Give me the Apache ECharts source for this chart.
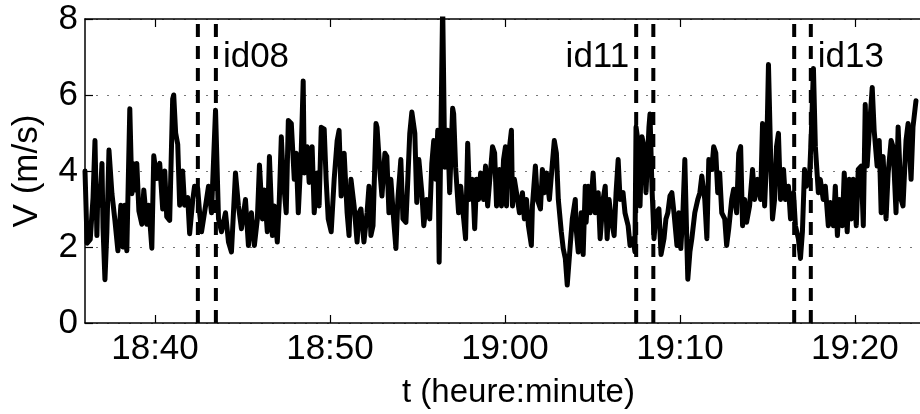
<!DOCTYPE html>
<html><head><meta charset="utf-8">
<script src="https://cdn.jsdelivr.net/npm/echarts@6/dist/echarts.min.js"></script>
<style>html,body{margin:0;padding:0;background:#fff}#chart{width:920px;height:414px}</style>
</head><body><div id="chart"></div>
<script>
// time in minutes after 18:00, wind speed V (m/s)
const windSpeed = [
[36.00,4.0],[36.12,2.1],[36.30,2.2],[36.46,3.3],[36.57,4.8],[36.68,2.3],[36.74,3.6],[36.85,3.1],[36.97,4.2],[37.03,2.5],[37.14,1.14],[37.25,2.4],[37.37,4.55],[37.54,3.4],[37.71,2.7],[37.88,1.9],[38.05,3.1],[38.16,2.0],[38.28,3.1],[38.39,1.9],[38.56,5.64],[38.68,3.4],[38.73,4.2],[38.85,3.5],[38.96,4.2],[39.08,2.95],[39.25,2.6],[39.36,3.5],[39.53,2.6],[39.64,3.1],[39.82,1.97],[39.93,4.4],[40.10,3.8],[40.27,4.2],[40.44,3.0],[40.56,4.0],[40.67,2.8],[40.84,2.7],[41.01,5.9],[41.07,6.0],[41.18,5.0],[41.30,4.7],[41.41,3.1],[41.58,4.0],[41.69,3.1],[41.87,3.3],[41.98,2.35],[42.15,3.2],[42.26,3.6],[42.44,3.55],
[42.55,2.9],[42.66,2.4],[42.89,3.08],[43.06,3.6],[43.23,2.9],[43.46,5.6],[43.63,2.74],[43.80,2.4],[44.03,2.9],[44.20,2.13],[44.37,1.87],[44.60,3.95],[44.77,3.08],[44.94,2.48],[45.17,3.25],[45.34,2.04],[45.51,2.9],
[45.68,2.04],[45.85,2.74],[45.97,4.16],[46.14,2.74],[46.25,3.5],[46.42,2.4],[46.54,4.38],[46.71,2.3],[46.82,3.08],[46.99,2.13],[47.10,3.17],[47.22,4.9],[47.33,3.78],[47.50,2.9],[47.62,5.33],[47.79,5.25],[47.96,3.78],[48.07,4.47],[48.19,2.9],[48.36,4.55],[48.47,6.37],[48.53,3.95],[48.70,4.64],[48.81,3.7],[48.98,4.64],[49.10,2.9],[49.27,3.95],[49.38,3.08],[49.50,5.15],[49.67,5.1],[49.78,3.78],[49.90,2.74],[50.07,2.4],[50.24,3.78],
[50.41,4.8],[50.52,5.07],[50.64,3.34],[50.81,4.47],[50.98,2.9],[51.09,2.3],[51.20,3.78],[51.38,3.08],[51.55,2.13],[51.66,2.9],[51.77,3.0],[51.94,2.13],[52.12,2.9],[52.23,3.6],[52.34,2.3],[52.46,2.56],[52.63,5.25],[52.69,5.15],[52.86,3.95],[52.97,3.34],[53.14,4.47],[53.25,4.38],[53.37,2.9],[53.48,3.78],[53.65,2.65],[53.77,1.96],[53.88,3.25],[54.05,4.3],[54.17,2.74],[54.34,2.65],[54.45,3.78],[54.56,4.99],[54.68,5.55],[54.85,4.99],[54.96,3.17],
[55.08,4.3],[55.25,3.43],[55.36,2.56],[55.53,3.25],[55.70,2.74],[55.82,4.2],[55.93,4.8],[56.05,3.78],[56.16,5.07],[56.24,1.6],[56.44,8.4],[56.56,4.1],[56.73,5.07],[56.84,3.43],[57.01,5.65],[57.07,5.5],[57.18,4.1],[57.35,2.9],[57.47,3.6],[57.64,2.74],[57.75,2.22],[57.87,4.73],[57.98,3.25],[58.15,3.78],[58.27,2.48],[58.38,3.78],[58.49,3.25],[58.61,3.95],[58.78,3.25],[58.89,4.13],[59.01,3.08],[59.12,3.7],[59.29,4.64],[59.41,4.47],[59.52,3.08],[59.69,4.04],
[59.80,3.08],[59.92,4.3],[60.03,4.64],[60.09,3.08],[60.20,4.38],[60.37,5.07],[60.43,3.08],[60.54,3.78],[60.66,3.43],[60.83,2.9],[61.00,3.43],[61.11,2.74],[61.23,3.25],[61.34,2.56],[61.51,2.04],[61.57,3.08],[61.74,4.13],[61.85,3.25],[62.03,3.0],[62.14,4.04],[62.25,3.43],[62.37,3.95],[62.54,3.25],[62.71,4.2],[62.82,4.8],[62.94,4.47],[63.05,3.25],[63.22,2.4],[63.33,1.96],[63.45,1.7],[63.56,1.0],[63.73,2.04],[63.85,2.74],[64.02,3.25],[64.07,2.48],[64.19,1.87],[64.36,2.9],[64.47,1.8],
[64.59,3.6],[64.64,2.65],[64.76,3.6],[64.87,2.9],[65.04,3.95],[65.16,2.9],[65.33,3.43],[65.44,2.22],[65.61,3.25],[65.73,3.6],[65.84,2.22],[65.95,3.25],[66.07,2.74],[66.24,2.3],[66.35,3.43],[66.47,4.3],[66.58,3.25],[66.75,3.43],[66.86,2.9],[67.04,2.56],[67.15,2.04],[67.32,2.22],[67.43,1.87],[67.49,5.16],[67.60,4.8],[67.72,3.08],[67.83,4.9],[67.95,4.64],[68.06,3.43],[68.23,5.16],[68.29,5.5],[68.40,3.6],[68.52,2.22],[68.63,2.9],[68.80,3.0],[68.92,1.8],[69.09,2.22],[69.20,2.74],
[69.31,2.9],[69.43,3.34],[69.54,3.43],[69.66,2.9],[69.83,2.04],[69.94,2.9],[70.05,1.96],[70.17,2.9],[70.28,4.3],[70.40,2.04],[70.45,1.15],[70.57,1.87],[70.68,2.22],[70.85,2.9],[71.02,3.25],[71.14,3.43],[71.25,3.87],[71.42,3.25],[71.54,2.22],[71.65,4.3],[71.82,4.04],[71.93,4.64],[72.05,4.47],[72.16,3.43],[72.27,3.95],[72.39,2.9],[72.56,2.74],[72.67,2.04],[72.79,2.48],[72.96,3.25],[73.07,3.52],[73.24,2.9],[73.36,4.47],[73.47,4.64],[73.58,2.56],[73.70,3.25],[73.81,2.65],
[73.98,3.08],[74.15,4.04],[74.27,3.25],[74.44,3.78],[74.61,3.25],[74.72,5.25],[74.84,3.08],[74.95,4.3],[75.06,6.8],[75.18,4.47],[75.29,2.74],[75.41,3.25],[75.52,4.64],[75.63,4.99],[75.75,3.25],[75.92,4.04],[76.03,3.25],[76.20,3.6],[76.32,2.74],[76.49,3.43],[76.60,2.56],[76.77,2.22],[76.89,1.7],[77.00,2.4],[77.12,4.04],[77.23,3.6],[77.40,3.78],[77.51,4.99],[77.63,6.7],[77.74,4.64],[77.91,3.43],[78.02,3.78],[78.19,3.25],[78.31,3.6],[78.48,2.56],[78.60,3.17],
[78.77,2.56],[78.88,3.6],[79.00,2.3],[79.11,3.25],[79.28,2.56],[79.39,3.95],[79.56,2.4],[79.68,3.78],[79.79,2.74],[79.91,3.78],[80.08,2.56],[80.19,4.04],[80.36,4.13],[80.48,2.56],[80.59,5.75],[80.70,4.13],[80.87,5.4],[80.99,6.2],[81.10,5.07],[81.27,4.13],[81.39,4.8],[81.50,2.9],[81.61,4.38],[81.78,2.74],[81.90,3.95],[82.07,4.8],[82.18,4.64],[82.35,2.9],[82.47,5.16],[82.64,3.25],[82.75,3.08],[82.92,4.8],[83.04,5.25],[83.21,3.78],[83.32,5.16],[83.49,5.85]
];
const tickMinutes = [40, 50, 60, 70, 80];
const tickLabels = ['18:40', '18:50', '19:00', '19:10', '19:20'];
const idLines = [42.45, 43.48, 67.50, 68.48, 76.53, 77.48];
const idNames = ['id08', 'id11', 'id13'];
const idLabelSide = ['right', 'left', 'right'];

const FONT = 'Liberation Sans, Arial, Helvetica, sans-serif';
const X_MIN = 36, X_MAX = 83.72, Y_MIN = 0, Y_MAX = 8, LABEL_V = 7;

const chart = echarts.init(document.getElementById('chart'), null, {renderer: 'canvas'});

const series = [{
  type: 'line', data: windSpeed, showSymbol: false, symbol: 'none', clip: true,
  lineStyle: {color: '#000', width: 5, join: 'round', cap: 'round'}, z: 3, animation: false
}];
idLines.forEach(t => {
  series.push({
    type: 'line', data: [[t, Y_MIN], [t, Y_MAX]], symbol: 'none', clip: true,
    lineStyle: {color: '#000', width: 4, type: [13, 9]}, z: 4, animation: false
  });
});
series.push({
  type: 'scatter', symbolSize: 0, z: 5, animation: false,
  itemStyle: {opacity: 1},
  data: idNames.map((n, i) => ({
    value: [idLabelSide[i] === 'right' ? idLines[2 * i + 1] : idLines[2 * i], LABEL_V],
    name: n,
    label: {position: idLabelSide[i]}
  })),
  label: {show: true, formatter: p => p.name, fontSize: 35, fontFamily: FONT, color: '#000', opacity: 1, distance: 7}
});

const tickFmt = v => { const k = tickMinutes.indexOf(Math.round(v)); return k >= 0 ? tickLabels[k] : ''; };

chart.setOption({
  backgroundColor: '#fff',
  animation: false,
  grid: {left: 85, right: -3, top: 19, bottom: 87, containLabel: false},
  xAxis: [{
    type: 'value', min: X_MIN, max: X_MAX, position: 'bottom',
    axisLine: {show: true, lineStyle: {color: '#000', width: 1.5}},
    axisTick: {show: true, inside: true, length: 8, customValues: tickMinutes, lineStyle: {color: '#000', width: 1.2}},
    axisLabel: {customValues: tickMinutes, formatter: tickFmt, fontSize: 35, fontFamily: FONT, color: '#000', margin: 9},
    splitLine: {show: false},
    name: 't (heure:minute)', nameLocation: 'middle', nameGap: 53,
    nameTextStyle: {fontSize: 33, fontFamily: FONT, color: '#000', padding: [0, 0, 0, 32]}
  }, {
    type: 'value', min: X_MIN, max: X_MAX, position: 'top',
    axisLine: {show: true, lineStyle: {color: '#000', width: 1.5}},
    axisTick: {show: true, inside: true, length: 8, customValues: tickMinutes, lineStyle: {color: '#000', width: 1.2}},
    axisLabel: {show: false}, splitLine: {show: false}
  }],
  yAxis: [{
    type: 'value', min: Y_MIN, max: Y_MAX, interval: 2,
    axisLine: {show: true, lineStyle: {color: '#000', width: 1.5}},
    axisTick: {show: true, inside: true, length: 8, lineStyle: {color: '#000', width: 1.2}},
    axisLabel: {fontSize: 35, fontFamily: FONT, color: '#000', margin: 7},
    splitLine: {show: true, lineStyle: {color: '#777', width: 1, type: [2, 9]}},
    name: 'V (m/s)', nameLocation: 'middle', nameGap: 40, nameRotate: 90,
    nameTextStyle: {fontSize: 35, fontFamily: FONT, color: '#000'}
  }],
  series: series
});
</script></body></html>
